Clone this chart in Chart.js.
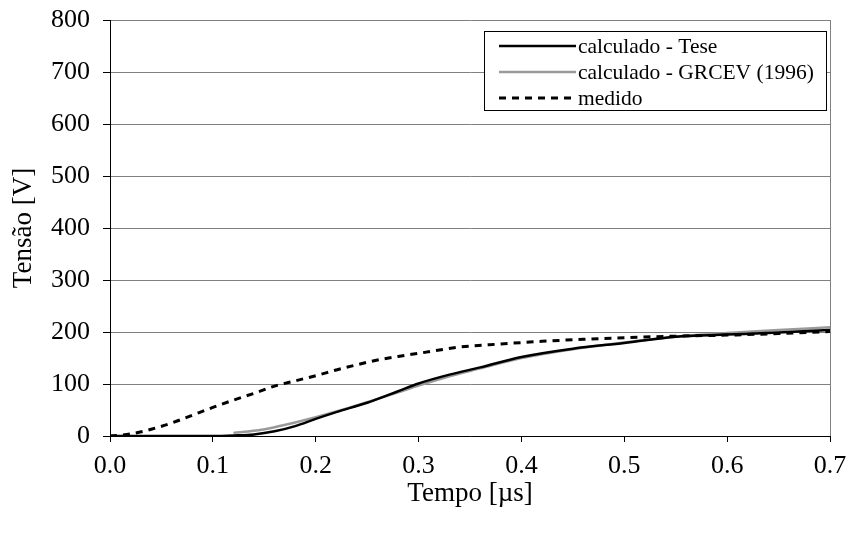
<!DOCTYPE html>
<html>
<head>
<meta charset="utf-8">
<script src="https://cdn.jsdelivr.net/npm/chart.js@4/dist/chart.umd.min.js"></script>
<style>
  html, body { margin: 0; padding: 0; background: #fff; }
  #wrap { width: 849px; height: 534px; }
</style>
</head>
<body>
<div id="wrap"><canvas id="c" width="849" height="534"></canvas></div>
<script>
// Tensão calculada (Tese)
const teseTempo  = [0, 0.05, 0.1, 0.12, 0.14, 0.16, 0.18, 0.2, 0.22, 0.25, 0.28, 0.3, 0.33, 0.36, 0.4, 0.45, 0.5, 0.55, 0.6, 0.65, 0.7];
const teseTensao = [0, 0, 0, 1, 3, 9, 19, 33, 46, 64, 86, 101, 118, 132, 152, 168, 179, 191, 195, 199, 204];

// Tensão calculada - GRCEV (1996)
const grcevTempo  = [0.12, 0.14, 0.16, 0.18, 0.2, 0.22, 0.25, 0.28, 0.3, 0.33, 0.36, 0.4, 0.45, 0.5, 0.55, 0.6, 0.65, 0.7];
const grcevTensao = [6, 10, 17, 26, 36, 47, 65, 84, 97, 115, 130, 150, 167, 180, 191, 198, 204, 209];

// Tensão medida
const medidoTempo  = [0, 0.02, 0.04, 0.06, 0.08, 0.1, 0.12, 0.14, 0.16, 0.18, 0.2, 0.22, 0.24, 0.26, 0.28, 0.3, 0.34, 0.38, 0.42, 0.46, 0.5, 0.55, 0.6, 0.65, 0.7];
const medidoTensao = [0, 4, 13, 25, 40, 55, 69, 82, 96, 106, 116, 127, 137, 146, 153, 159, 171, 177, 182, 186, 189, 192, 194, 197, 201];

const serieNomes = ['calculado - Tese', 'calculado - GRCEV (1996)', 'medido'];
const xTicks = [0, 0.1, 0.2, 0.3, 0.4, 0.5, 0.6, 0.7];
const yTicks = [0, 100, 200, 300, 400, 500, 600, 700, 800];

const pts = (xs, ys) => xs.map((x, i) => ({ x: x, y: ys[i] }));
const FONT = 'Liberation Serif, "Times New Roman", serif';

// Right frame edge of the plot area
const frame = {
  id: 'frame',
  beforeDatasetsDraw(chart) {
    const { ctx, chartArea: a } = chart;
    ctx.save();
    ctx.strokeStyle = '#808080';
    ctx.lineWidth = 1;
    ctx.beginPath();
    ctx.moveTo(Math.round(a.right) + 0.5, a.top);
    ctx.lineTo(Math.round(a.right) + 0.5, a.bottom);
    ctx.stroke();
    ctx.restore();
  }
};

// Boxed legend in the top-right corner of the plot
const boxLegend = {
  id: 'boxLegend',
  afterDatasetsDraw(chart) {
    const { ctx, chartArea: a } = chart;
    const right = Math.round(a.right) - 4, top = Math.round(a.top) + 11;
    const w = 342, h = 79;
    const left = right - w;
    ctx.save();
    ctx.fillStyle = '#fff';
    ctx.fillRect(left, top, w, h);
    ctx.strokeStyle = '#000';
    ctx.lineWidth = 1;
    ctx.strokeRect(left + 0.5, top + 0.5, w, h);
    ctx.font = '21.5px ' + FONT;
    ctx.textBaseline = 'middle';
    ctx.fillStyle = '#000';
    chart.data.datasets.forEach((ds, i) => {
      const y = top + 15 + i * 26;
      ctx.save();
      ctx.strokeStyle = ds.borderColor;
      ctx.lineWidth = ds.borderWidth;
      ctx.setLineDash(ds.borderDash || []);
      ctx.beginPath();
      ctx.moveTo(left + 15, y);
      ctx.lineTo(left + 92, y);
      ctx.stroke();
      ctx.restore();
      ctx.fillText(ds.label, left + 94, y + 1);
    });
    ctx.restore();
  }
};

new Chart(document.getElementById('c'), {
  type: 'line',
  data: {
    datasets: [
      { label: serieNomes[0], data: pts(teseTempo, teseTensao), borderColor: '#000000', borderWidth: 2.5, order: 1 },
      { label: serieNomes[1], data: pts(grcevTempo, grcevTensao), borderColor: '#9a9a9a', borderWidth: 2.5, order: 2 },
      { label: serieNomes[2], data: pts(medidoTempo, medidoTensao), borderColor: '#000000', borderWidth: 3, borderDash: [7, 6], order: 0 }
    ]
  },
  options: {
    responsive: false,
    animation: false,
    devicePixelRatio: 1,
    parsing: false,
    elements: {
      point: { radius: 0 },
      line: { tension: 0.35, cubicInterpolationMode: 'monotone', fill: false }
    },
    layout: { padding: { top: 20, right: 19, bottom: 0, left: 0 } },
    plugins: { legend: { display: false }, tooltip: { enabled: false } },
    scales: {
      x: {
        type: 'linear',
        min: 0, max: 0.7,
        afterBuildTicks: s => { s.ticks = xTicks.map(v => ({ value: v })); },
        afterFit: s => { s.height = 98; s.paddingLeft = 0; s.paddingRight = 0; },
        ticks: { color: '#000', font: { family: FONT, size: 26 }, padding: 9, maxRotation: 0, callback: v => v.toFixed(1) },
        grid: { drawOnChartArea: false, drawTicks: true, tickLength: 6, tickColor: '#000', color: '#000' },
        border: { color: '#000', width: 1 },
        title: { display: true, text: 'Tempo [µs]', color: '#000', font: { family: FONT, size: 27 }, padding: { top: 0, bottom: 24 } }
      },
      y: {
        min: 0, max: 800,
        afterBuildTicks: s => { s.ticks = yTicks.map(v => ({ value: v })); },
        afterFit: s => { s.width = 110; s.paddingTop = 0; s.paddingBottom = 0; },
        ticks: { color: '#000', font: { family: FONT, size: 26 }, padding: 13 },
        grid: { color: '#808080', lineWidth: 1, tickLength: 7, tickColor: '#000' },
        border: { color: '#000', width: 1 },
        title: { display: true, text: 'Tensão [V]', color: '#000', font: { family: FONT, size: 27 }, padding: { top: 8, bottom: 0 } }
      }
    }
  },
  plugins: [frame, boxLegend]
});
</script>
</body>
</html>
